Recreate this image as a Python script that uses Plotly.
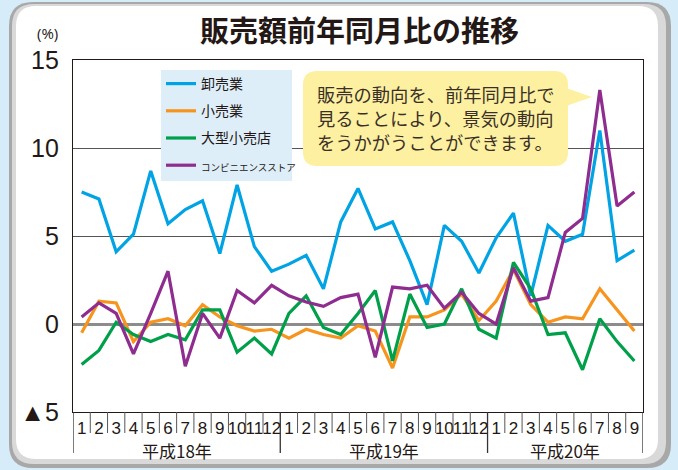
import plotly.graph_objects as go

# months (平成18年1月 - 平成20年9月)
months = [str(m) for m in range(1, 13)] * 2 + [str(m) for m in range(1, 10)]
years = ["平成18年", "平成19年", "平成20年"]
year_centers = [5.5, 17.5, 28]

# 前年同月比 (%)
wholesale = [7.5, 7.1, 4.1, 5.1, 8.7, 5.7, 6.5, 7.0, 4.0, 7.9, 4.4, 3.0,
             3.4, 3.9, 2.0, 5.8, 7.7, 5.4, 5.8, 3.6, 1.1, 5.6, 4.7, 2.9,
             4.9, 6.3, 1.6, 5.6, 4.7, 5.1, 11.0, 3.6, 4.2]
retail = [-0.5, 1.3, 1.2, -1.0, 0.1, 0.3, -0.1, 1.1, 0.4, -0.1, -0.4, -0.3,
          -0.8, -0.3, -0.6, -0.8, -0.1, -0.4, -2.5, 0.4, 0.4, 0.8, 1.7, 0.2,
          1.3, 3.1, 1.1, 0.1, 0.4, 0.3, 2.0, 0.8, -0.4]
large_store = [-2.3, -1.5, 0.1, -0.6, -1.0, -0.6, -0.9, 0.8, 0.8, -1.6, -0.8, -1.7,
               0.6, 1.6, -0.2, -0.6, 0.6, 1.9, -2.1, 1.7, -0.2, 0.0, 2.0, -0.3,
               -0.8, 3.5, 2.0, -0.6, -0.5, -2.6, 0.3, -1.0, -2.1]
convenience = [0.4, 1.2, 0.6, -1.7, 0.6, 3.0, -2.4, 0.6, -0.8, 1.9, 1.2, 2.2,
               1.6, 1.25, 1.0, 1.5, 1.7, -1.9, 2.1, 2.0, 2.2, 0.9, 1.8, 0.6,
               0.0, 3.2, 1.3, 1.5, 5.2, 6.0, 13.3, 6.7, 7.5]

x = list(range(len(months)))

# pixel geometry of the plot area
L, R, T, B = 73, 643, 60, 412
W, H = 678, 470


def px(v):
    return (v - L) / (R - L)


def py(v):
    return (B - v) / (B - T)


def rounded_rect(x0, y0, x1, y1, r):
    return (f"M {px(x0 + r)} {py(y0)} L {px(x1 - r)} {py(y0)} "
            f"Q {px(x1)} {py(y0)} {px(x1)} {py(y0 + r)} "
            f"L {px(x1)} {py(y1 - r)} Q {px(x1)} {py(y1)} {px(x1 - r)} {py(y1)} "
            f"L {px(x0 + r)} {py(y1)} Q {px(x0)} {py(y1)} {px(x0)} {py(y1 - r)} "
            f"L {px(x0)} {py(y0 + r)} Q {px(x0)} {py(y0)} {px(x0 + r)} {py(y0)} Z")


fig = go.Figure()

series = [
    ("卸売業", wholesale, "#00a3e3"),
    ("小売業", retail, "#f7941d"),
    ("大型小売店", large_store, "#00a04a"),
    ("<span style='font-size:9.5px'>コンビニエンスストア</span>", convenience, "#8e2c8f"),
]
for i, (name, vals, color) in enumerate(series):
    fig.add_trace(go.Scatter(
        x=x, y=vals, mode="lines", name=name, legendgroup=str(i),
        line=dict(color=color, width=3.2)
    ))

shapes = []
# card background
shapes.append(dict(type="path", xref="paper", yref="paper", layer="below",
                   path=rounded_rect(9, 2, 671, 468, 24),
                   fillcolor="#a8a8a8", line=dict(width=0)))
shapes.append(dict(type="path", xref="paper", yref="paper", layer="below",
                   path=rounded_rect(12, 4, 666, 464, 22),
                   fillcolor="#d9d9d9", line=dict(width=0)))
shapes.append(dict(type="path", xref="paper", yref="paper", layer="below",
                   path=rounded_rect(16, 6, 658, 459, 20),
                   fillcolor="white", line=dict(width=0)))

# month cells under the axis
for i in range(1, len(months)):
    if i in (12, 24):
        continue
    shapes.append(dict(type="line", xref="x", yref="paper",
                       x0=i - 0.5, x1=i - 0.5, y0=0, y1=py(433),
                       line=dict(color="#555555", width=1)))
# year separators
for xv in (-0.5, 11.5, 23.5, 32.5):
    shapes.append(dict(type="line", xref="x", yref="paper",
                       x0=xv, x1=xv, y0=0, y1=py(453),
                       line=dict(color="#333333", width=1.3)))

# legend panel
shapes.append(dict(type="rect", xref="paper", yref="paper",
                   x0=px(161), x1=px(292), y0=py(70), y1=py(181),
                   fillcolor="#deeef9", line=dict(width=0)))

# callout bubble
shapes.append(dict(type="path", xref="paper", yref="paper",
                   path=rounded_rect(303, 71, 568, 166, 14),
                   fillcolor="#fdf0a0", line=dict(width=0)))
shapes.append(dict(type="path", xref="paper", yref="paper",
                   path=(f"M {px(566)} {py(88)} L {px(592)} {py(97)} "
                         f"L {px(566)} {py(106)} Z"),
                   fillcolor="#fdf0a0", line=dict(width=0)))

annotations = [
    dict(text="<b>販売額前年同月比の推移</b>", xref="paper", yref="paper",
         x=px(359), y=py(29), showarrow=False,
         font=dict(size=29, color="#231815", family="Noto Sans CJK JP"),
         xanchor="center", yanchor="middle"),
    dict(text="(%)", xref="paper", yref="paper", x=px(47), y=py(33),
         showarrow=False, font=dict(size=15, color="#231815"),
         xanchor="center", yanchor="middle"),
    dict(text="販売の動向を、前年同月比で<br>見ることにより、景気の動向<br>をうかがうことができます。",
         xref="paper", yref="paper", x=px(315), y=py(118), showarrow=False,
         align="left", xanchor="left", yanchor="middle",
         font=dict(size=18.3, color="#3a3029", family="Noto Sans CJK JP")),
]
for yr, c in zip(years, year_centers):
    annotations.append(dict(text=yr, xref="x", yref="paper", x=c, y=py(450),
                            showarrow=False, xanchor="center", yanchor="middle",
                            font=dict(size=17, color="#231815",
                                      family="Noto Sans CJK JP")))

fig.update_layout(
    width=W, height=H,
    margin=dict(l=L, r=W - R, t=T, b=H - B, autoexpand=False),
    paper_bgcolor="#d6ecf8",
    plot_bgcolor="rgba(0,0,0,0)",
    shapes=shapes,
    annotations=annotations,
    showlegend=True,
    legend=dict(x=px(161), y=py(68), xanchor="left", yanchor="top",
                bgcolor="rgba(0,0,0,0)", borderwidth=0,
                font=dict(size=14, color="#231815", family="Noto Sans CJK JP"),
                tracegroupgap=6, traceorder="grouped",
                itemwidth=30),
    xaxis=dict(range=[-0.5, 32.5], tickvals=x, ticktext=months, tickangle=0,
               showgrid=False, zeroline=False, showline=True, mirror=True,
               linecolor="#231815", linewidth=1.3, ticks="", automargin=False,
               tickfont=dict(size=17, color="#231815",
                             family="Liberation Sans Narrow, Liberation Sans")),
    yaxis=dict(range=[-5, 15], tickvals=[-5, 0, 5, 10, 15],
               ticktext=["▲5", "0", "5", "10", "15"],
               showgrid=True, gridcolor="#555555", gridwidth=1,
               zeroline=True, zerolinecolor="#8c8c8c", zerolinewidth=2.5,
               showline=True, mirror=True, linecolor="#231815", linewidth=1.3,
               ticks="", ticklabelstandoff=8, automargin=False,
               tickfont=dict(size=25, color="#231815", family="Liberation Sans")),
)

fig.write_html("out.html", config={"displayModeBar": False},
               post_script="document.body.style.margin='0';")
